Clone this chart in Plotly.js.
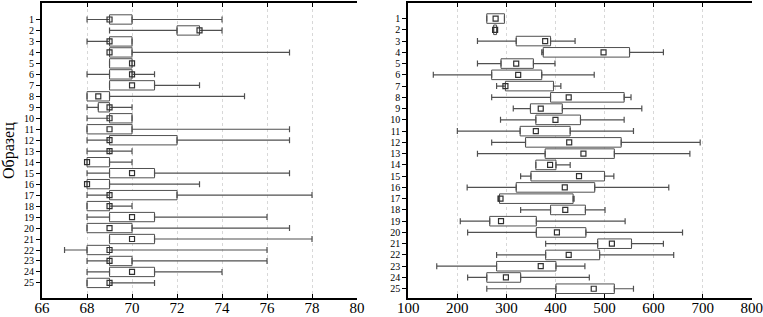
<!DOCTYPE html>
<html>
<head>
<meta charset="utf-8">
<script src="https://cdn.plot.ly/plotly-3.0.1.min.js"></script>
<style>html,body{margin:0;padding:0;background:#fff;}#chart{width:763px;height:317px;}</style>
</head>
<body>
<div id="chart"></div>
<script>
const samples = [1,2,3,4,5,6,7,8,9,10,11,12,13,14,15,16,17,18,19,20,21,22,23,24,25];
const sampleLabels = samples.map(String);

// Left panel
const leftMin = [68,69,68,69,69,68,69,68,68,68,68,68,68,68,68,68,68,68,68,68,69,67,68,68,68];
const leftQ1  = [69,72,69,69,69,69,69,68,68.5,69,68,69,69,68,69,68,69,68,69,68,69,68,69,69,68];
const leftMed = [69,73,69,69,70,70,70,68.5,69,69,69,69,69,68,70,68,69,69,70,69,70,69,69,70,69];
const leftQ3  = [70,73,70,70,70,70,71,69,69,70,70,72,69,69,71,69,72,69,71,70,71,69,70,71,69];
const leftMax = [74,74,70,77,70,71,73,75,70,70,77,77,70,70,77,73,78,70,76,77,78,76,76,74,71];

// Right panel
const rightMin = [260,274,241,372,241,151,280,270,314,288,200,270,241,360,329,220,284,329,206,221,380,280,158,221,260];
const rightQ1  = [260,274,320,375,289,270,298,390,349,360,328,339,379,360,350,320,286,390,266,361,486,380,280,260,401];
const rightMed = [278,277,379,498,320,324,298,427,370,400,360,428,457,389,448,419,288,420,289,403,515,427,370,299,478];
const rightQ3  = [296,280,390,551,355,372,396,540,414,451,430,534,520,401,500,480,436,461,361,462,555,490,401,329,520];
const rightMax = [296,280,440,620,399,479,411,554,576,540,559,695,674,430,519,631,438,501,542,659,620,641,460,469,559];

const FONT = 'Liberation Serif, Times New Roman, serif';
const BOXC = '#505050';

function panel(mn, q1, med, q3, mx, xa, ya) {
  const len = q3.map((v, i) => (v - q1[i]) > 0 ? v - q1[i] : null);
  return [
    {type:'bar', orientation:'h', y:samples, x:len, base:q1, width:0.85,
     marker:{color:'#ffffff', line:{color:BOXC, width:1}}, xaxis:xa, yaxis:ya, hoverinfo:'skip', showlegend:false},
    {type:'scatter', mode:'markers', y:samples, x:q1, marker:{opacity:0, size:1},
     error_x:{type:'data', symmetric:false, array:q1.map(() => 0), arrayminus:q1.map((v,i) => v - mn[i]),
              color:BOXC, thickness:1.2, width:3}, xaxis:xa, yaxis:ya, hoverinfo:'skip', showlegend:false},
    {type:'scatter', mode:'markers', y:samples, x:q3, marker:{opacity:0, size:1},
     error_x:{type:'data', symmetric:false, array:q3.map((v,i) => mx[i] - v), arrayminus:q3.map(() => 0),
              color:BOXC, thickness:1.2, width:3}, xaxis:xa, yaxis:ya, hoverinfo:'skip', showlegend:false},
    {type:'scatter', mode:'markers', y:samples, x:med,
     marker:{symbol:'square-open', size:5, color:'#303030', line:{width:1.2, color:'#303030'}},
     xaxis:xa, yaxis:ya, hoverinfo:'skip', showlegend:false}
  ];
}

const data = [].concat(
  panel(leftMin, leftQ1, leftMed, leftQ3, leftMax, 'x', 'y'),
  panel(rightMin, rightQ1, rightMed, rightQ3, rightMax, 'x2', 'y2')
);

const yDom = [0.059, 0.9905];
const xAxisBase = {
  showline:true, linecolor:'#000', linewidth:2, mirror:'ticks',
  ticks:'inside', ticklen:4, tickwidth:1, tickcolor:'#000',
  showgrid:true, gridcolor:'#d8d8d8', griddash:'dot', gridwidth:1,
  zeroline:false, tickfont:{family:FONT, size:15, color:'#000'}, automargin:false,
  ticklabelstandoff:-5
};
const yAxisBase = {
  showline:true, linecolor:'#000', linewidth:2,
  ticks:'outside', ticklen:4, tickwidth:1, tickcolor:'#000',
  tickvals:samples, ticktext:sampleLabels, showgrid:false, zeroline:false,
  tickfont:{family:FONT, size:10, color:'#000'}, automargin:false, domain:yDom
};
const yOverlay = {
  showline:true, linecolor:'#000', linewidth:2, mirror:'ticks',
  ticks:'inside', ticklen:4, tickwidth:1, tickcolor:'#000',
  tickvals:samples, showticklabels:false, showgrid:false, zeroline:false, automargin:false, domain:yDom
};

const layout = {
  width:763, height:317, margin:{l:0, r:0, t:0, b:0},
  paper_bgcolor:'#fff', plot_bgcolor:'#fff', barmode:'overlay', showlegend:false,
  font:{family:FONT, color:'#000'},
  xaxis:Object.assign({}, xAxisBase, {domain:[0.0551, 0.4679], range:[66, 80], dtick:2, tick0:66, anchor:'y'}),
  xaxis2:Object.assign({}, xAxisBase, {domain:[0.5351, 0.9852], range:[100, 800], dtick:100, tick0:100, anchor:'y2'}),
  yaxis:Object.assign({}, yAxisBase, {range:[26.4, -0.5], anchor:'x',
    title:{text:'Образец', font:{family:FONT, size:16, color:'#000'}, standoff:6}}),
  yaxis2:Object.assign({}, yAxisBase, {range:[25.85, -0.38], anchor:'x2'}),
  yaxis3:Object.assign({}, yOverlay, {range:[26.4, -0.5], overlaying:'y', anchor:'x', side:'left'}),
  yaxis4:Object.assign({}, yOverlay, {range:[25.85, -0.38], overlaying:'y2', anchor:'x2', side:'left'})
};

Plotly.newPlot('chart', data, layout, {staticPlot:true, displayModeBar:false});
</script>
</body>
</html>
